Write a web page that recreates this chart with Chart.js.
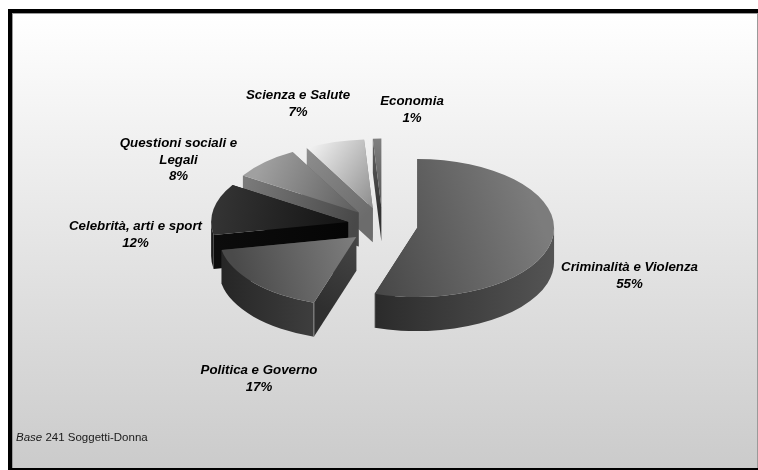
<!DOCTYPE html>
<html>
<head>
<meta charset="utf-8">
<script src="https://cdn.jsdelivr.net/npm/chart.js@4"></script>
<style>
html, body { margin: 0; padding: 0; background: #fff; }
#wrap { width: 758px; height: 470px; }
</style>
</head>
<body>
<div id="wrap"><canvas id="pie" width="758" height="470"></canvas></div>
<script>
const categories = ['Criminalità e Violenza', 'Politica e Governo', 'Celebrità, arti e sport', 'Questioni sociali e Legali', 'Scienza e Salute', 'Economia'];
const shares = [55, 17, 12, 8, 7, 1];

// label lines, split as in the picture
const labelLines = [['Criminalità e Violenza'], ['Politica e Governo'], ['Celebrità, arti e sport'], ['Questioni sociali e', 'Legali'], ['Scienza e Salute'], ['Economia']];
const labelSpots = [[629.5, 271], [259, 374], [135.5, 230], [178.5, 147], [298, 99], [412, 105]];

// top face: colour at the rim, colour at the far end, gradient direction, how far it runs behind the tip
const faceRim = ['#7c7c7c', '#4a4a4a', '#333333', '#a0a0a0', '#fdfdfd', '#808080'];
const faceTip = ['#3e3e3e', '#7e7e7e', '#131313', '#5c5c5c', '#8c8c8c', '#555555'];
const faceDir = [-35, 150, 200, 225, 235, 270];
const faceBack = [0.75, 0, 0, 0, 0, 0];
// outer wall and cut wall
const wallLeft = ['#2b2b2b', '#262626', '#1c1c1c', '#555555', '#777777', '#444444'];
const wallRight = ['#545454', '#3e3e3e', '#1c1c1c', '#555555', '#777777', '#444444'];
const cutOuter = ['#333333', '#2f2f2f', '#0c0c0c', '#7c7c7c', '#8e8e8e', '#666666'];
const cutInner = ['#333333', '#464646', '#050505', '#484848', '#6c6c6c', '#333333'];

const centerX = 382.5, centerY = 225.3, squash = 0.504, depth = 34;

function apexOf(arc) {
  const mid = (arc.startAngle + arc.endAngle) / 2;
  return [arc.x + Math.cos(mid) * arc.options.offset, arc.y + Math.sin(mid) * arc.options.offset * squash];
}

function rimPoint(ax, ay, r, a) {
  return [ax + Math.cos(a) * r, ay + Math.sin(a) * r * squash];
}

function traceRim(ctx, ax, ay, r, a0, a1, ccw) {
  ctx.ellipse(ax, ay, r, r * squash, 0, a0, a1, ccw);
}

function drawSlice(ctx, arc, i) {
  const [ax, ay] = apexOf(arc);
  const r = arc.outerRadius, a0 = arc.startAngle, a1 = arc.endAngle;

  // cut walls, the top face hides whichever looks away
  [a1, a0].forEach(function (a) {
    const p = rimPoint(ax, ay, r, a);
    const g = ctx.createLinearGradient(ax, ay, p[0], p[1]);
    g.addColorStop(0, cutInner[i]);
    g.addColorStop(1, cutOuter[i]);
    ctx.fillStyle = g;
    ctx.beginPath();
    ctx.moveTo(ax, ay);
    ctx.lineTo(p[0], p[1]);
    ctx.lineTo(p[0], p[1] + depth);
    ctx.lineTo(ax, ay + depth);
    ctx.closePath();
    ctx.fill();
  });

  // outer wall, only the front half of the rim shows
  const from = Math.max(a0, 0), to = Math.min(a1, Math.PI);
  if (to > from) {
    const l = rimPoint(ax, ay, r, to), rr = rimPoint(ax, ay, r, from);
    const g = ctx.createLinearGradient(l[0], 0, rr[0], 0);
    g.addColorStop(0, wallLeft[i]);
    g.addColorStop(1, wallRight[i]);
    ctx.fillStyle = g;
    ctx.beginPath();
    traceRim(ctx, ax, ay, r, from, to, false);
    traceRim(ctx, ax, ay + depth, r, to, from, true);
    ctx.closePath();
    ctx.fill();
    // thin highlight where the rim meets the cut
    if (i < 2) {
      const c = i === 0 ? l : rimPoint(ax, ay, r, a0);
      ctx.strokeStyle = 'rgba(200,200,200,0.6)';
      ctx.lineWidth = 1;
      ctx.beginPath();
      ctx.moveTo(c[0], c[1]);
      ctx.lineTo(c[0], c[1] + depth);
      ctx.stroke();
    }
  }

  // top face
  const rad = faceDir[i] * Math.PI / 180;
  const ux = Math.cos(rad) * r, uy = Math.sin(rad) * r * squash;
  const g = ctx.createLinearGradient(ax - ux * faceBack[i], ay - uy * faceBack[i], ax + ux, ay + uy);
  g.addColorStop(0, faceTip[i]);
  g.addColorStop(1, faceRim[i]);
  ctx.fillStyle = g;
  ctx.beginPath();
  ctx.moveTo(ax, ay);
  traceRim(ctx, ax, ay, r, a0, a1, false);
  ctx.closePath();
  ctx.fill();
}

const panelPlugin = {
  id: 'panel',
  beforeDraw(chart) {
    const ctx = chart.ctx;
    ctx.save();
    ctx.fillStyle = '#ffffff';
    ctx.fillRect(0, 0, 758, 470);
    ctx.fillStyle = '#000000';
    ctx.fillRect(8, 9, 750, 461);
    ctx.fillStyle = '#9a9a9a';
    ctx.fillRect(12, 13, 746, 455);
    const g = ctx.createLinearGradient(0, 14, 0, 468);
    g.addColorStop(0, '#ffffff');
    g.addColorStop(1, '#cbcbcb');
    ctx.fillStyle = g;
    ctx.fillRect(13, 14, 744, 454);
    ctx.restore();
  }
};

const pie3dPlugin = {
  id: 'pie3d',
  beforeDatasetDraw(chart) {
    const ctx = chart.ctx;
    const arcs = chart.getDatasetMeta(0).data;
    ctx.save();
    // back to front: last slices sit behind the first ones
    for (let i = arcs.length - 1; i >= 0; i--) drawSlice(ctx, arcs[i], i);
    ctx.restore();
    return false;
  },
  afterDraw(chart) {
    const ctx = chart.ctx;
    ctx.save();
    ctx.fillStyle = '#000000';
    ctx.font = 'italic bold 13.3px "Liberation Sans"';
    ctx.textAlign = 'center';
    ctx.textBaseline = 'alphabetic';
    labelLines.forEach(function (lines, i) {
      const [x, y] = labelSpots[i];
      const rows = lines.concat([shares[i] + '%']);
      rows.forEach(function (row, n) {
        ctx.fillText(row, x, y + n * 16.5);
      });
    });
    ctx.textAlign = 'left';
    ctx.font = 'italic 11.5px "Liberation Sans"';
    ctx.fillStyle = '#1a1a1a';
    ctx.fillText('Base', 16, 441);
    const w = ctx.measureText('Base ').width;
    ctx.font = '11.5px "Liberation Sans"';
    ctx.fillText('241 Soggetti-Donna', 16 + w, 441);
    ctx.restore();
  }
};

new Chart(document.getElementById('pie'), {
  type: 'pie',
  data: {
    labels: categories,
    datasets: [{
      data: shares,
      backgroundColor: faceRim,
      borderWidth: 0,
      offset: 35
    }]
  },
  options: {
    responsive: false,
    animation: false,
    radius: 137,
    layout: { padding: { left: centerX * 2 - 758, bottom: 470 - centerY * 2 } },
    plugins: { legend: { display: false }, tooltip: { enabled: false }, title: { display: false } }
  },
  plugins: [panelPlugin, pie3dPlugin]
});
</script>
</body>
</html>
